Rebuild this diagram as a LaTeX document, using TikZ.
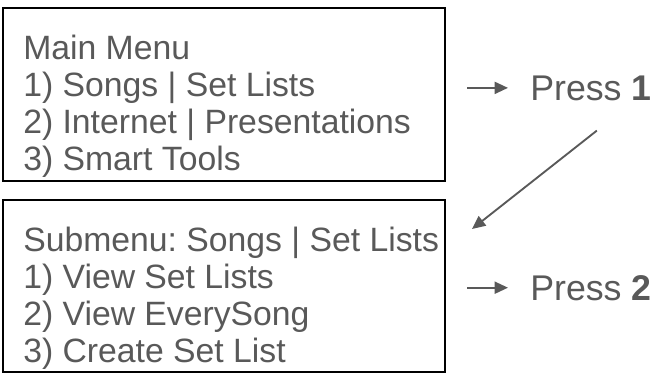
\documentclass[tikz,border=0pt]{standalone}
\usepackage{fontspec}
\setmainfont{Liberation Sans}
\usetikzlibrary{positioning,arrows.meta}
\definecolor{menugray}{HTML}{595959}
\frenchspacing

\begin{document}
\begin{tikzpicture}[x=0.75pt,y=-0.75pt,
    menubox/.style={draw=black,line width=1.4pt},
    menutext/.style={text=menugray,font=\fontsize{25.3}{30}\selectfont,anchor=base west,inner sep=0pt},
    presstext/.style={text=menugray,font=\fontsize{26.8}{30}\selectfont,anchor=base west,inner sep=0pt},
    pressarrow/.style={draw=menugray,line width=1.4pt,-{Triangle[length=10pt,width=9pt]}}]
%    \draw[orange,thin] (0,0) grid[step=50] (657,375);
    \useasboundingbox (0,0) rectangle (657,375);

    % main menu
    \draw[menubox] (3,8) rectangle (445,181);
    \foreach \txt [count=\i from 0] in {Main Menu,1) Songs | Set Lists,2) Internet | Presentations,3) Smart Tools}
        \node[menutext] (main\i) at (23,59+37*\i) {\txt};

    % submenu
    \draw[menubox] (3,200) rectangle (445,372);
    \foreach \txt [count=\i from 0] in {Submenu: Songs | Set Lists,1) View Set Lists,2) View EverySong,3) Create Set List}
        \node[menutext] (sub\i) at (23,251+37*\i) {\txt};

    % key presses
    \node[presstext] (press1) at (530,100) {Press \textbf{1}};
    \node[presstext] (press2) at (530,300) {Press \textbf{2}};
    \coordinate (from1) at ([xshift=-47pt]press1.west);
    \coordinate (from2) at ([xshift=-47pt]press2.west);
    \draw[pressarrow,shorten >=16.5pt] (from1) -- (press1.west);
    \draw[pressarrow,shorten >=16.5pt] (from2) -- (press2.west);

    % on to the submenu
    \coordinate (into2) at (472,229);
    \draw[pressarrow] ([xshift=4.5pt,yshift=-22.5pt]press1.south) -- (into2);

\end{tikzpicture}
\end{document}
